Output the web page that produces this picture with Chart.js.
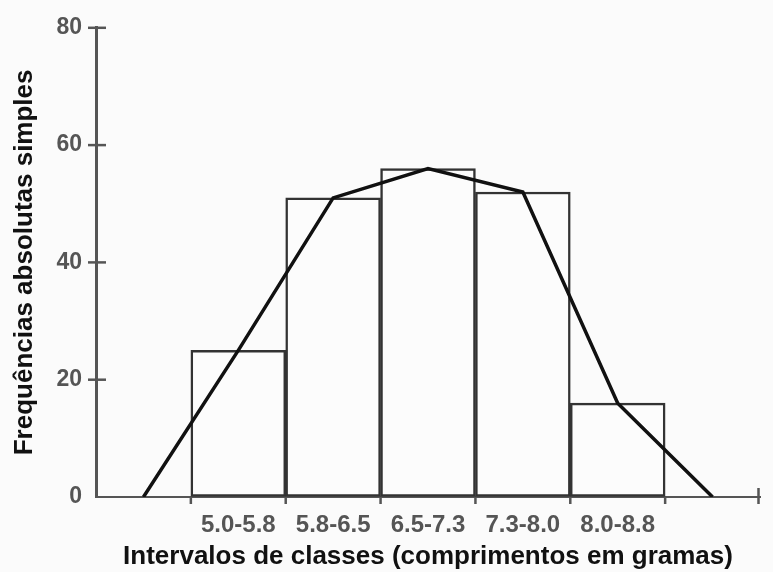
<!DOCTYPE html>
<html>
<head>
<meta charset="utf-8">
<script src="https://cdn.jsdelivr.net/npm/chart.js@4"></script>
<style>
  html, body { margin: 0; padding: 0; background: #fbfbfb; }
  #wrap { width: 773px; height: 572px; }
</style>
</head>
<body>
<div id="wrap"><canvas id="histo"></canvas></div>
<script>
const classes = ['5.0-5.8', '5.8-6.5', '6.5-7.3', '7.3-8.0', '8.0-8.8'];
const freqs = [25, 51, 56, 52, 16];
// frequency polygon: class midpoints plus an empty class on each side
const polyX = [0, 1, 2, 3, 4, 5, 6];
const polyY = [0, 25, 51, 56, 52, 16, 0];
const yTicks = [0, 20, 40, 60, 80];
const yMarks = [20, 40, 60, 80];
const xEdges = [0.5, 1.5, 2.5, 3.5, 4.5, 5.5, 6.5];

const ctx = document.getElementById('histo');

// small tick marks that cross the axes
const tickMarks = {
    id: 'tickMarks',
    afterDraw(chart) {
        const {ctx, scales: {x, y}} = chart;
        ctx.save();
        ctx.strokeStyle = '#555';
        ctx.lineWidth = 2.5;
        yMarks.forEach(v => {
            const py = y.getPixelForValue(v);
            ctx.beginPath();
            ctx.moveTo(x.left - 8, py);
            ctx.lineTo(x.left + 10, py);
            ctx.stroke();
        });
        xEdges.forEach((v, i) => {
            const px = x.getPixelForValue(v) - (i === xEdges.length - 1 ? 1.5 : 0);
            const last = i === xEdges.length - 1;
            ctx.beginPath();
            ctx.moveTo(px, last ? y.bottom - 9 : y.bottom);
            ctx.lineTo(px, y.bottom + 7);
            ctx.stroke();
        });
        ctx.restore();
    }
};

new Chart(ctx, {
    type: 'bar',
    data: {
        datasets: [
            {
                type: 'line',
                data: polyX.map((v, i) => ({x: v, y: polyY[i]})),
                borderColor: '#111',
                borderWidth: 3.5,
                pointRadius: 0,
                tension: 0,
                order: 0,
            },
            {
                data: freqs.map((v, i) => ({x: i + 1, y: v})),
                backgroundColor: '#fcfcfc',
                borderColor: '#333',
                borderWidth: 2.5,
                borderSkipped: false,
                barPercentage: 1,
                categoryPercentage: 1,
                order: 1,
            },
        ]
    },
    options: {
        responsive: true,
        maintainAspectRatio: false,
        animation: false,
        layout: { padding: { top: 24, right: 13, left: 0, bottom: 0 } },
        plugins: {
            legend: { display: false },
            tooltip: { enabled: false },
        },
        scales: {
            x: {
                type: 'linear',
                offset: false,
                min: -0.5,
                max: 6.5,
                afterBuildTicks: (scale) => {
                    scale.ticks = classes.map((c, i) => ({value: i + 1}));
                },
                afterFit: (scale) => { scale.height = 75; },
                ticks: {
                    autoSkip: false,
                    maxRotation: 0,
                    padding: 14,
                    color: '#555',
                    font: { family: 'Liberation Sans', size: 24, weight: 'bold' },
                    callback: (v, i) => classes[i],
                },
                grid: { drawOnChartArea: false, drawTicks: false },
                border: { color: '#555', width: 2 },
                title: {
                    display: true,
                    text: 'Intervalos de classes (comprimentos em gramas)',
                    color: '#111',
                    padding: { bottom: 0 },
                    font: { family: 'Liberation Sans', size: 26, weight: 'bold' },
                },
            },
            y: {
                min: 0,
                max: 80,
                afterBuildTicks: (scale) => {
                    scale.ticks = yTicks.map(v => ({value: v}));
                },
                afterFit: (scale) => { scale.width = 96; },
                ticks: {
                    padding: 14,
                    color: '#555',
                    font: { family: 'Liberation Sans', size: 23, weight: 'bold' },
                },
                grid: { drawOnChartArea: false, drawTicks: false },
                border: { color: '#555', width: 3 },
                title: {
                    display: true,
                    text: 'Frequências absolutas simples',
                    color: '#111',
                    padding: { top: 9 },
                    font: { family: 'Liberation Sans', size: 26, weight: 'bold' },
                },
            },
        },
    },
    plugins: [tickMarks],
});
</script>
</body>
</html>
